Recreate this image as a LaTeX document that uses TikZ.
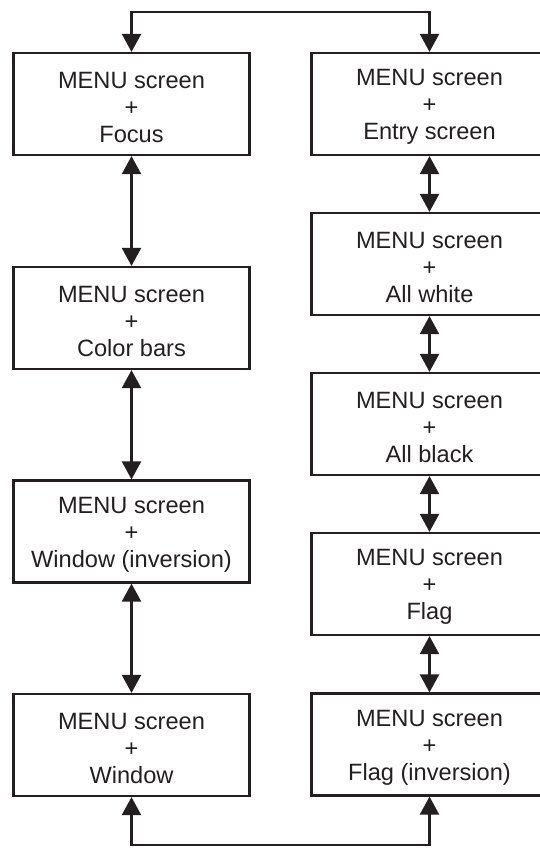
\documentclass[tikz,border=0pt]{standalone}
\usepackage{fontspec}
\setmainfont{Liberation Sans}
\usetikzlibrary{arrows.meta}
\definecolor{ink}{HTML}{231F20}
\tikzset{
  menubox/.style={draw=ink, line width=2.2pt, minimum width=236pt, minimum height=102pt,
    inner sep=0pt},
  menutext/.style={align=center, text=ink, inner sep=0pt, yshift=-3pt,
    font=\fontsize{23.6}{27}\selectfont},
  link/.style={draw=ink, line width=2.3pt, {Triangle[length=18pt,width=19pt]}-{Triangle[length=18pt,width=19pt]}}
}
\begin{document}
\begin{tikzpicture}[x=1pt,y=-1pt]
\useasboundingbox (0,0) rectangle (540,849);
\clip (0,0) rectangle (540,849);
% left column
\node[menubox, label={[menutext]center:MENU screen\\+\\Focus}] (L1) at (131.5,104) {};
\node[menubox, label={[menutext]center:MENU screen\\+\\Color bars}] (L2) at (131.5,318) {};
\node[menubox, label={[menutext]center:MENU screen\\+\\Window (inversion)}] (L3) at (131.5,531.5) {};
\node[menubox, label={[menutext]center:MENU screen\\+\\Window}] (L4) at (131.5,745) {};
% right column
\node[menubox, label={[menutext]center:MENU screen\\+\\Entry screen}] (R1) at (429.5,104) {};
\node[menubox, label={[menutext]center:MENU screen\\+\\All white}] (R2) at (429.5,264) {};
\node[menubox, label={[menutext]center:MENU screen\\+\\All black}] (R3) at (429.5,424) {};
\node[menubox, label={[menutext]center:MENU screen\\+\\Flag}] (R4) at (429.5,584) {};
\node[menubox, label={[menutext]center:MENU screen\\+\\Flag (inversion)}] (R5) at (429.5,744.5) {};
% routing points
\coordinate (top) at (280,12);
\coordinate (bot) at (280,845);
% connectors
\draw[link] (L1.north) |- (top) -| (R1.north);
\draw[link] (L4.south) |- (bot) -| (R5.south);
\draw[link] (L1.south) -- (L2.north);
\draw[link] (L2.south) -- (L3.north);
\draw[link] (L3.south) -- (L4.north);
\draw[link] (R1.south) -- (R2.north);
\draw[link] (R2.south) -- (R3.north);
\draw[link] (R3.south) -- (R4.north);
\draw[link] (R4.south) -- (R5.north);
\end{tikzpicture}
\end{document}
